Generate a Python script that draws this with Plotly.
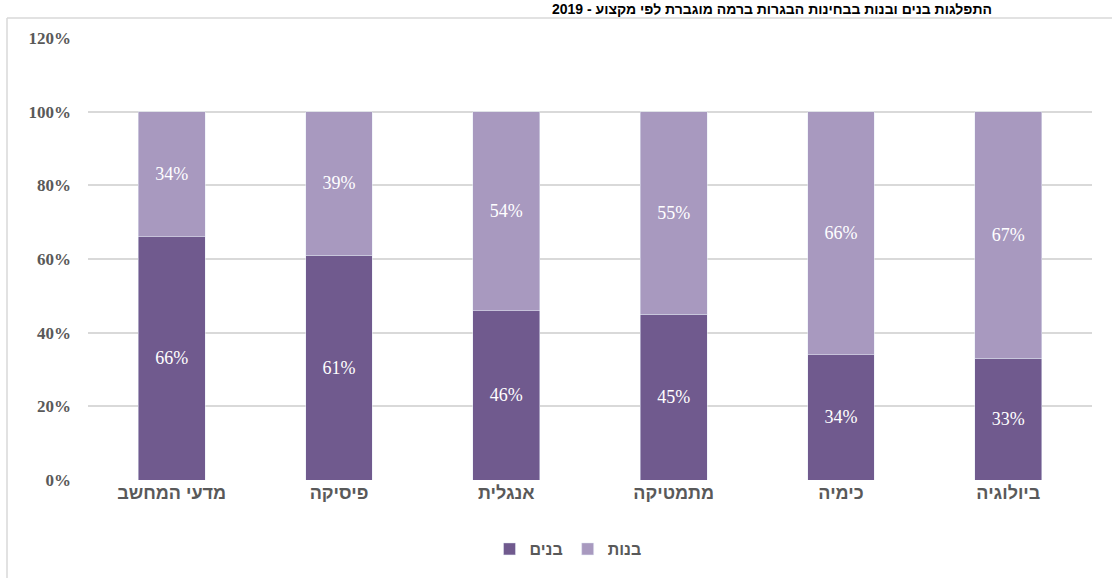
import plotly.graph_objects as go

categories = ["מדעי המחשב", "פיסיקה", "אנגלית", "מתמטיקה", "כימיה", "ביולוגיה"]
boys = [66, 61, 46, 45, 34, 33]
girls = [34, 39, 54, 55, 66, 67]
series_names = ["בנים", "בנות"]
title_text = "התפלגות בנים ובנות בבחינות הבגרות ברמה מוגברת לפי מקצוע - 2019"
y_ticks = [0, 20, 40, 60, 80, 100, 120]

W, H = 1112, 578
L, T = 88, 38
pw, ph = 1004, 442
R = W - L - pw
B = H - T - ph

def px_x(p):
    return (p - L) / pw

def px_y(p):
    return (T + ph - p) / ph

dark = "#705A8E"
light = "#A899BF"
label_font = dict(family="Liberation Serif, serif", size=18, color="white")

fig = go.Figure()
fig.add_trace(go.Bar(
    x=categories, y=boys, name=series_names[0], marker_color=dark,
    text=[f"{v}%" for v in boys], textposition="inside", insidetextanchor="middle",
    textfont=label_font, textangle=0, hoverinfo="skip",
))
fig.add_trace(go.Bar(
    x=categories, y=girls, name=series_names[1], marker_color=light,
    text=[f"{v}%" for v in girls], textposition="inside", insidetextanchor="middle",
    textfont=label_font, textangle=0, hoverinfo="skip",
))

fig.update_layout(
    width=W, height=H,
    margin=dict(l=L, r=R, t=T, b=B),
    barmode="stack", bargap=0.6,
    plot_bgcolor="white", paper_bgcolor="white",
    showlegend=True,
    legend=dict(orientation="h", x=px_x(568), xanchor="center", y=px_y(549), yanchor="middle",
                font=dict(family="Liberation Sans, Arial, sans-serif", size=16, color="#595959",
                          weight="bold"),
                traceorder="normal", itemwidth=30),
    xaxis=dict(showgrid=False, showline=False, ticks="",
               tickfont=dict(family="Liberation Sans, Arial, sans-serif", size=18, color="#595959",
                             weight="bold")),
    yaxis=dict(range=[0, 120], tickvals=y_ticks, ticktext=[f"{v}%" for v in y_ticks],
               showgrid=True, gridcolor="#D9D9D9", gridwidth=1.5, zeroline=False,
               showline=False, ticks="", ticklabelstandoff=16,
               tickfont=dict(family="Liberation Serif, serif", size=17, color="#595959",
                             weight="bold")),
)

# outer chart frame (partially visible)
fig.add_shape(type="line", xref="paper", yref="paper",
              x0=px_x(7), x1=px_x(7), y0=px_y(18), y1=px_y(600),
              line=dict(color="#D9D9D9", width=1.5))
fig.add_shape(type="line", xref="paper", yref="paper",
              x0=px_x(7), x1=px_x(1120), y0=px_y(18), y1=px_y(18),
              line=dict(color="#D9D9D9", width=1.5))

# title
fig.add_annotation(text=title_text, xref="paper", yref="paper",
                   x=px_x(772), y=px_y(9), xanchor="center", yanchor="middle",
                   showarrow=False,
                   font=dict(family="Liberation Sans, Arial, sans-serif", size=14, color="black",
                             weight="bold"))

fig.write_html("out.html", config={"displayModeBar": False},
               post_script="document.body.style.margin='0px';")
